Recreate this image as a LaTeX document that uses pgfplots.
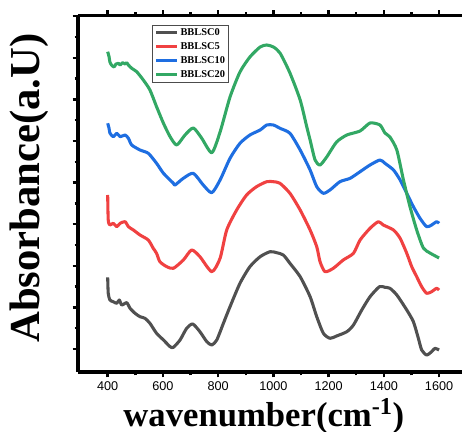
\documentclass[border=0pt]{standalone}
\usepackage{pgfplots}
\pgfplotsset{compat=1.18}
\usepackage{fontspec}
\setmainfont{Liberation Serif}
\newfontfamily\arialfont{Liberation Sans}
\definecolor{cgray}{RGB}{80,80,80}
\definecolor{cred}{RGB}{240,65,65}
\definecolor{cblue}{RGB}{30,110,225}
\definecolor{cgreen}{RGB}{50,168,100}
\begin{document}
\begin{tikzpicture}
\begin{axis}[
  scale only axis,
  width=288pt, height=267.3pt,
  xmin=292.5, xmax=1683,
  ymin=0, ymax=356.4,
  axis x line=box, axis y line=left,
  axis line style={-, line width=2.8pt, black},
  tick align=outside,
  major tick length=4pt, minor tick length=2.5pt,
  every tick/.style={black, line width=1.8pt},
  xtick={400,600,...,1600},
  minor x tick num=1,
  ytick={23,64.6,106.2,147.8,189.4,231,272.6,314.2,355.8},
  minor y tick num=1,
  yticklabels={},
  /pgf/number format/1000 sep={},
  /pgf/number format/assume math mode=true,
  xticklabel style={font=\arialfont\fontsize{9.5}{11}\selectfont},
  xlabel={\textbf{wavenumber(cm\textsuperscript{-1})}},
  xlabel style={font=\fontsize{26}{29}\selectfont, at={(axis description cs:0.484,-0.152)}, anchor=base},
  ylabel={\textbf{Absorbance(a.U)}},
  ylabel style={font=\fontsize{32}{35}\selectfont, at={(axis description cs:-0.099,0.516)}, anchor=base},
  legend cell align=left,
  legend style={at={(rel axis cs:0.193,0.974)}, anchor=north west,
    draw=black!70, line width=0.6pt,
    font=\bfseries\fontsize{7.8}{8.8}\selectfont,
    inner xsep=1.5pt, inner ysep=1pt, row sep=1.4pt,
    nodes={inner sep=1.2pt}},
  legend image code/.code={\draw[#1, line width=2.3pt](0pt,0pt) -- (16pt,0pt);},
  every axis plot/.append style={line width=2.3pt, line join=round, smooth, tension=0.4, no marks},
]
\addplot[cgray] coordinates {
(400,94.7)(402,78.7)(408,72)(420,70.3)(433,68.7)(442,72)(451,67)(469,69.3)(481,63.7)(499,58.7)(517,55.3)(535,53.7)(553,48.7)(577,38.7)(602,32)(626,25.3)(638,24.7)(662,32)(686,43.7)(708,48)(734,40.3)(759,30.3)(777,27)(795,32)(819,48.7)(843,65.3)(879,88.7)(915,105.3)(952,115.3)(988,120.3)(1012,119.3)(1036,117)(1060,108.7)(1097,95.3)(1133,75.3)(1157,55.3)(1181,38.7)(1205,33.7)(1229,36)(1266,40.3)(1290,47)(1320,62)(1350,75.3)(1384,85.3)(1404,84.7)(1422,83.7)(1447,77)(1483,62)(1507,50.3)(1525,33.7)(1537,22)(1555,17)(1573,20.3)(1585,23.7)(1600,22)
};
\addlegendentry{BBLSC0}
\addplot[cred] coordinates {
(400,177)(402,152)(408,147)(420,148.7)(433,145.3)(445,148.7)(463,150.3)(475,145.3)(493,142)(517,137)(547,132)(565,123.7)(577,118.7)(589,110.3)(614,105.3)(638,103.7)(674,112)(704,122)(734,115.3)(777,100.3)(807,113.7)(831,142)(867,162)(903,177)(939,185.3)(976,190.3)(1000,190.3)(1024,188.7)(1060,178.7)(1097,162)(1133,142)(1157,125.3)(1169,110.3)(1187,100.3)(1217,103.7)(1253,112)(1290,118.7)(1314,132)(1350,143.7)(1380,150.3)(1398,147)(1435,142)(1459,133.7)(1483,118.7)(1501,105.3)(1519,95.3)(1537,85.3)(1555,78.7)(1573,80.3)(1591,83.7)(1600,82)
};
\addlegendentry{BBLSC5}
\addplot[cblue] coordinates {
(400,248.7)(405,243.7)(408,239)(420,235.3)(433,238.7)(445,235.3)(463,237)(475,233.7)(487,227)(517,222)(547,218.7)(577,208.7)(602,198.7)(638,188.7)(644,187)(674,193.7)(710,198.7)(746,187)(777,179.3)(807,192)(843,213.7)(879,228.7)(915,237)(952,242)(976,247)(1000,247)(1024,243.7)(1060,238.7)(1097,222)(1133,202)(1157,185.3)(1181,178.7)(1205,182)(1241,190.3)(1278,193.7)(1314,200.3)(1350,207)(1386,212)(1404,208.7)(1435,202)(1459,192)(1483,178.7)(1507,165.3)(1531,153.7)(1555,145.3)(1573,147)(1591,150.3)(1600,148.7)
};
\addlegendentry{BBLSC10}
\addplot[cgreen] coordinates {
(400,320.3)(405,315.3)(408,310)(414,307)(423,305)(430,308)(439,308.7)(445,307)(454,309.3)(463,308)(469,309.3)(475,307)(487,303.7)(505,300.3)(529,292)(553,282)(577,265.3)(602,248.7)(626,235.3)(650,227)(680,237)(710,244)(740,234)(777,219.3)(807,240)(843,275)(879,300)(915,315)(952,325)(976,327)(1000,325)(1024,319)(1060,299)(1097,272)(1121,245)(1133,232)(1151,212)(1169,207)(1193,215)(1229,230)(1266,237)(1314,241)(1350,249)(1386,247)(1404,239)(1422,235)(1447,222)(1471,192)(1495,165)(1519,142)(1543,124)(1567,119)(1600,114)
};
\addlegendentry{BBLSC20}
\end{axis}
\pgfresetboundingbox
\path[use as bounding box] ([xshift=-58.5pt,yshift=-45pt]current axis.south west) rectangle ([yshift=11.7pt]current axis.north east);
\end{tikzpicture}
\end{document}
